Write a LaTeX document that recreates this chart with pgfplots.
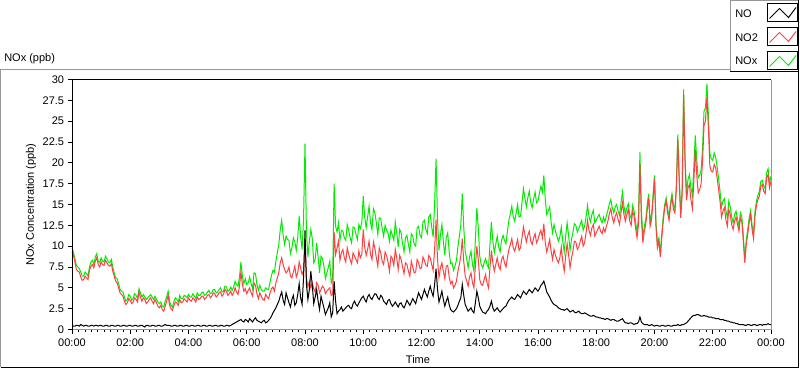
\documentclass[border=0pt]{standalone}
\usepackage{pgfplots}
\usepackage{pgfplotstable}
\pgfplotsset{compat=1.18}
\usepackage{fontspec}
\setmainfont{Liberation Sans}
\definecolor{noxgreen}{RGB}{0,235,0}
\definecolor{notwored}{RGB}{255,64,64}
\definecolor{framegray}{RGB}{150,150,150}
\pgfplotstableread{
t no no2 nox
0.0 0.5 9.3 9.8
0.05 0.4 8.9 9.3
0.1 0.4 8.1 8.5
0.15 0.5 7.2 7.7
0.2 0.5 7.0 7.5
0.25 0.4 6.9 7.3
0.3 0.6 6.3 6.9
0.35 0.5 5.9 6.4
0.4 0.4 6.0 6.4
0.45 0.5 6.4 6.9
0.5 0.5 6.2 6.7
0.55 0.4 6.0 6.4
0.6 0.4 7.1 7.5
0.65 0.5 7.6 8.1
0.7 0.5 7.8 8.3
0.75 0.4 7.4 7.8
0.8 0.5 8.2 8.7
0.85 0.5 8.6 9.1
0.9 0.4 7.8 8.2
0.95 0.5 7.5 8.0
1.0 0.5 8.1 8.6
1.05 0.4 7.8 8.2
1.1 0.4 7.7 8.1
1.15 0.5 8.3 8.8
1.2 0.5 8.0 8.5
1.25 0.4 7.7 8.1
1.3 0.4 7.6 8.0
1.35 0.5 7.9 8.4
1.4 0.5 7.0 7.5
1.45 0.4 6.4 6.8
1.5 0.4 5.8 6.2
1.55 0.5 5.6 6.1
1.6 0.5 5.0 5.5
1.65 0.4 4.4 4.8
1.7 0.4 4.2 4.6
1.75 0.5 4.0 4.5
1.8 0.5 3.4 3.9
1.85 0.4 3.0 3.4
1.9 0.4 3.2 3.6
1.95 0.5 3.7 4.2
2.0 0.5 3.5 4.0
2.05 0.4 3.1 3.5
2.1 0.4 3.3 3.7
2.15 0.5 3.8 4.3
2.2 0.5 3.6 4.1
2.25 0.4 3.3 3.7
2.3 0.4 4.5 4.9
2.35 0.5 3.9 4.4
2.4 0.5 3.4 3.9
2.45 0.4 3.8 4.2
2.5 0.3 3.6 3.9
2.55 0.5 3.1 3.6
2.6 0.5 3.3 3.8
2.65 0.4 3.6 4.0
2.7 0.4 3.8 4.2
2.75 0.5 3.4 3.9
2.8 0.5 3.1 3.6
2.85 0.4 3.6 4.0
2.9 0.4 3.2 3.6
2.95 0.5 2.8 3.3
3.0 0.5 2.6 3.1
3.05 0.4 2.9 3.3
3.1 0.4 2.4 2.8
3.15 0.5 2.2 2.7
3.2 0.6 2.8 3.4
3.25 0.5 3.4 3.9
3.3 0.5 4.1 4.6
3.35 0.5 2.9 3.4
3.4 0.4 2.5 2.9
3.45 0.4 2.3 2.7
3.5 0.5 2.9 3.4
3.55 0.5 3.3 3.8
3.6 0.4 3.2 3.6
3.65 0.4 2.9 3.3
3.7 0.5 3.6 4.1
3.75 0.5 3.2 3.7
3.8 0.4 3.3 3.7
3.85 0.4 3.7 4.1
3.9 0.5 3.5 4.0
3.95 0.5 3.3 3.8
4.0 0.4 3.8 4.2
4.05 0.4 3.5 3.9
4.1 0.5 3.4 3.9
4.15 0.5 3.8 4.3
4.2 0.4 3.6 4.0
4.25 0.4 3.3 3.7
4.3 0.5 3.9 4.4
4.35 0.5 3.6 4.1
4.4 0.4 3.7 4.1
4.45 0.4 4.0 4.4
4.5 0.5 4.0 4.5
4.55 0.5 3.6 4.1
4.6 0.4 3.8 4.2
4.65 0.4 4.1 4.5
4.7 0.5 4.2 4.7
4.75 0.5 3.8 4.3
4.8 0.4 4.0 4.4
4.85 0.4 4.4 4.8
4.9 0.5 4.3 4.8
4.95 0.5 3.9 4.4
5.0 0.4 4.1 4.5
5.05 0.4 4.4 4.8
5.1 0.5 4.5 5.0
5.15 0.5 4.0 4.5
5.2 0.4 4.2 4.6
5.25 0.4 4.8 5.2
5.3 0.5 4.6 5.1
5.35 0.5 4.1 4.6
5.4 0.4 4.3 4.7
5.45 0.5 4.6 5.1
5.5 0.6 4.1 4.7
5.55 0.7 4.4 5.1
5.6 0.8 5.0 5.8
5.65 0.9 4.5 5.4
5.7 1.0 4.2 5.2
5.75 1.1 5.2 6.3
5.8 1.2 6.9 8.1
5.85 1.0 5.4 6.4
5.9 0.9 4.6 5.5
5.95 1.2 4.9 6.1
6.0 1.1 4.3 5.4
6.05 0.9 4.7 5.6
6.1 1.3 5.0 6.3
6.15 1.1 4.4 5.5
6.2 0.9 4.0 4.9
6.25 1.2 5.6 6.8
6.3 1.4 5.3 6.7
6.35 1.1 4.3 5.4
6.4 1.0 3.7 4.7
6.45 0.9 4.4 5.3
6.5 0.8 4.0 4.8
6.55 1.0 3.6 4.6
6.6 1.1 3.5 4.6
6.65 0.8 4.2 5.0
6.7 0.9 3.9 4.8
6.75 1.1 3.7 4.8
6.8 1.3 4.4 5.7
6.85 1.6 4.9 6.5
6.9 2.0 5.1 7.1
6.95 2.3 4.6 6.9
7.0 2.6 5.6 8.2
7.05 3.0 6.2 9.2
7.1 3.4 6.8 10.2
7.15 4.0 8.0 12.0
7.2 4.5 8.6 13.1
7.25 3.5 7.8 11.3
7.3 3.0 7.2 10.2
7.35 4.4 6.8 11.2
7.4 3.8 7.0 10.8
7.45 3.2 7.5 10.7
7.5 2.7 6.4 9.1
7.55 3.6 6.2 9.8
7.6 4.1 6.9 11.0
7.65 2.9 7.6 10.5
7.7 3.2 6.3 9.5
7.75 4.2 6.8 11.0
7.8 5.5 8.1 13.6
7.85 3.8 7.4 11.2
7.9 3.0 6.6 9.6
7.95 6.2 7.0 13.2
8.0 11.9 10.4 22.3
8.05 5.4 6.2 11.6
8.1 3.6 5.1 8.7
8.15 4.8 5.8 10.6
8.2 7.0 5.0 12.0
8.25 5.3 5.6 10.9
8.3 3.1 4.9 8.0
8.35 3.9 4.5 8.4
8.4 4.8 5.6 10.4
8.45 3.4 5.3 8.7
8.5 2.4 4.4 6.8
8.55 4.0 4.8 8.8
8.6 3.3 5.2 8.5
8.65 2.6 5.0 7.6
8.7 1.8 4.3 6.1
8.75 2.2 4.6 6.8
8.8 2.6 4.8 7.4
8.85 3.2 5.0 8.2
8.9 1.5 4.1 5.6
8.95 2.0 4.2 6.2
9.0 5.8 11.7 17.5
9.05 3.4 9.0 12.4
9.1 1.9 9.8 11.7
9.15 2.2 10.6 12.8
9.2 2.4 8.3 10.7
9.25 2.7 9.2 11.9
9.3 2.2 9.6 11.8
9.35 2.4 8.6 11.0
9.4 2.6 8.1 10.7
9.45 2.8 9.8 12.6
9.5 2.9 9.0 11.9
9.55 2.6 8.4 11.0
9.6 2.5 7.9 10.4
9.65 3.1 9.2 12.3
9.7 3.4 8.8 12.2
9.75 3.0 8.4 11.4
9.8 2.8 8.0 10.8
9.85 3.2 9.4 12.6
9.9 3.5 8.6 12.1
9.95 3.8 9.0 12.8
10.0 4.0 12.0 16.0
10.05 3.6 9.9 13.5
10.1 3.3 8.9 12.2
10.15 3.9 9.6 13.5
10.2 4.2 10.6 14.8
10.25 3.8 9.0 12.8
10.3 3.6 8.4 12.0
10.35 4.0 10.5 14.5
10.4 4.3 9.7 14.0
10.45 4.2 8.6 12.8
10.5 3.8 7.6 11.4
10.55 3.6 9.8 13.4
10.6 4.1 9.2 13.3
10.65 3.9 8.2 12.1
10.7 3.4 7.8 11.2
10.75 3.2 9.3 12.5
10.8 3.0 8.9 11.9
10.85 3.5 8.1 11.6
10.9 3.6 7.0 10.6
10.95 3.1 8.8 11.9
11.0 2.8 8.5 11.3
11.05 3.0 7.7 10.7
11.1 3.3 9.6 12.9
11.15 3.0 8.6 11.6
11.2 2.7 7.2 9.9
11.25 3.1 8.9 12.0
11.3 3.2 8.4 11.6
11.35 2.8 7.5 10.3
11.4 2.6 6.7 9.3
11.45 3.0 8.0 11.0
11.5 3.5 7.8 11.3
11.55 3.2 7.0 10.2
11.6 2.9 6.4 9.3
11.65 3.3 8.2 11.5
11.7 3.7 7.5 11.2
11.75 3.4 6.8 10.2
11.8 3.1 6.9 10.0
11.85 3.8 8.4 12.2
11.9 4.4 8.0 12.4
11.95 4.0 7.3 11.3
12.0 3.6 7.4 11.0
12.05 4.2 8.7 12.9
12.1 4.8 8.3 13.1
12.15 4.3 7.7 12.0
12.2 3.9 7.6 11.5
12.25 4.6 8.9 13.5
12.3 5.2 8.6 13.8
12.35 4.5 7.8 12.3
12.4 4.0 7.1 11.1
12.45 5.4 9.6 15.0
12.5 7.3 13.2 20.5
12.55 4.8 8.4 13.2
12.6 3.3 6.2 9.5
12.65 3.9 7.4 11.3
12.7 4.6 8.0 12.6
12.75 3.6 7.0 10.6
12.8 2.8 6.1 8.9
12.85 3.4 7.6 11.0
12.9 3.9 7.7 11.6
12.95 3.0 6.3 9.3
13.0 2.4 5.5 7.9
13.05 2.2 5.8 8.0
13.1 2.1 5.0 7.1
13.15 2.3 5.3 7.6
13.2 2.5 5.8 8.3
13.25 2.9 7.0 9.9
13.3 3.4 7.8 11.2
13.35 3.8 8.8 12.6
13.4 5.4 10.9 16.3
13.45 4.1 8.2 12.3
13.5 3.0 6.4 9.4
13.55 2.6 5.9 8.5
13.6 2.2 5.2 7.4
13.65 2.4 6.3 8.7
13.7 2.6 6.8 9.4
13.75 2.2 5.6 7.8
13.8 2.0 5.0 7.0
13.85 3.2 7.6 10.8
13.9 4.6 10.0 14.6
13.95 3.8 8.4 12.2
14.0 2.8 6.0 8.8
14.05 2.4 5.4 7.8
14.1 2.1 5.3 7.4
14.15 2.0 6.0 8.0
14.2 1.9 6.6 8.5
14.25 2.2 5.6 7.8
14.3 2.4 5.0 7.4
14.35 2.8 7.4 10.2
14.4 3.4 9.5 12.9
14.45 2.6 8.0 10.6
14.5 2.2 7.0 9.2
14.55 2.4 7.8 10.2
14.6 2.6 8.6 11.2
14.65 2.3 7.6 9.9
14.7 2.1 7.2 9.3
14.75 2.3 8.4 10.7
14.8 2.5 8.8 11.3
14.85 2.7 8.0 10.7
14.9 2.8 7.5 10.3
14.95 3.2 8.6 11.8
15.0 3.5 9.6 13.1
15.05 3.7 10.2 13.9
15.1 3.9 10.9 14.8
15.15 3.7 9.8 13.5
15.2 3.6 9.4 13.0
15.25 3.9 10.1 14.0
15.3 4.2 10.8 15.0
15.35 4.0 9.5 13.5
15.4 3.8 9.8 13.6
15.45 4.2 11.0 15.2
15.5 4.6 12.3 16.9
15.55 4.4 11.4 15.8
15.6 4.2 10.5 14.7
15.65 4.5 11.3 15.8
15.7 4.8 11.8 16.6
15.75 4.6 10.6 15.2
15.8 4.4 10.2 14.6
15.85 4.7 11.0 15.7
15.9 5.0 11.5 16.5
15.95 4.8 10.4 15.2
16.0 4.6 10.8 15.4
16.05 4.9 11.5 16.4
16.1 5.3 11.9 17.2
16.15 5.5 11.0 16.5
16.2 5.8 12.7 18.5
16.25 5.2 10.4 15.6
16.3 4.5 9.3 13.8
16.35 4.2 10.0 14.2
16.4 3.9 10.8 14.7
16.45 3.5 9.4 12.9
16.5 3.2 8.4 11.6
16.55 3.0 9.6 12.6
16.6 2.9 8.9 11.8
16.65 2.8 8.4 11.2
16.7 2.6 8.0 10.6
16.75 2.5 8.6 11.1
16.8 2.4 9.9 12.3
16.85 2.4 8.2 10.6
16.9 2.3 7.0 9.3
16.95 2.4 8.8 11.2
17.0 2.5 10.3 12.8
17.05 2.3 9.0 11.3
17.1 2.1 7.4 9.5
17.15 2.2 8.6 10.8
17.2 2.3 9.4 11.7
17.25 2.1 10.6 12.7
17.3 2.0 10.5 12.5
17.35 2.1 9.6 11.7
17.4 2.2 9.9 12.1
17.45 2.0 10.6 12.6
17.5 1.9 11.2 13.1
17.55 1.9 10.0 11.9
17.6 2.0 10.4 12.4
17.65 1.9 11.6 13.5
17.7 1.8 13.1 14.9
17.75 1.7 11.9 13.6
17.8 1.6 11.3 12.9
17.85 1.6 12.2 13.8
17.9 1.7 12.6 14.3
17.95 1.6 11.2 12.8
18.0 1.5 11.6 13.1
18.05 1.5 12.0 13.5
18.1 1.4 12.4 13.8
18.15 1.4 11.8 13.2
18.2 1.3 11.5 12.8
18.25 1.3 12.2 13.5
18.3 1.2 11.7 12.9
18.35 1.3 12.4 13.7
18.4 1.3 13.0 14.3
18.45 1.2 13.9 15.1
18.5 1.1 14.5 15.6
18.55 1.2 13.4 14.6
18.6 1.2 12.8 14.0
18.65 1.1 13.6 14.7
18.7 1.0 14.0 15.0
18.75 1.0 13.2 14.2
18.8 1.1 12.6 13.7
18.85 1.2 14.0 15.2
18.9 1.3 15.2 16.5
18.95 1.0 13.8 14.8
19.0 0.8 13.0 13.8
19.05 0.8 13.8 14.6
19.1 0.7 14.4 15.1
19.15 0.8 13.0 13.8
19.2 0.8 12.5 13.3
19.25 0.7 14.2 14.9
19.3 0.6 13.6 14.2
19.35 0.7 12.2 12.9
19.4 0.7 11.0 11.7
19.45 0.9 12.6 13.5
19.5 1.5 19.8 21.3
19.55 0.9 13.4 14.3
19.6 0.7 10.4 11.1
19.65 0.6 11.8 12.4
19.7 0.6 12.6 13.2
19.75 0.6 14.4 15.0
19.8 0.5 15.8 16.3
19.85 0.5 12.4 12.9
19.9 0.6 13.2 13.8
19.95 0.5 15.6 16.1
20.0 0.4 18.1 18.5
20.05 0.5 12.4 12.9
20.1 0.5 9.8 10.3
20.15 0.4 10.6 11.0
20.2 0.4 8.7 9.1
20.25 0.5 11.0 11.5
20.3 0.5 13.0 13.5
20.35 0.4 14.6 15.0
20.4 0.4 15.4 15.8
20.45 0.5 14.0 14.5
20.5 0.5 13.1 13.6
20.55 0.4 14.8 15.2
20.6 0.4 15.9 16.3
20.65 0.5 14.4 14.9
20.7 0.5 14.0 14.5
20.75 0.5 16.8 17.3
20.8 0.6 22.8 23.4
20.85 0.5 17.6 18.1
20.9 0.5 13.4 13.9
20.95 0.6 16.2 16.8
21.0 0.6 28.2 28.8
21.05 0.7 19.8 20.5
21.1 0.8 15.5 16.3
21.15 1.0 17.0 18.0
21.2 1.2 17.4 18.6
21.25 1.4 15.6 17.0
21.3 1.6 14.5 16.1
21.35 1.7 17.8 19.5
21.4 1.7 21.6 23.3
21.45 1.8 18.6 20.4
21.5 1.8 16.4 18.2
21.55 1.7 16.8 18.5
21.6 1.6 17.5 19.1
21.65 1.6 20.2 21.8
21.7 1.7 24.5 26.2
21.75 1.6 25.0 26.6
21.8 1.6 27.9 29.5
21.85 1.5 24.2 25.7
21.9 1.5 19.6 21.1
21.95 1.5 19.0 20.5
22.0 1.4 18.9 20.3
22.05 1.4 19.8 21.2
22.1 1.3 19.4 20.7
22.15 1.3 18.2 19.5
22.2 1.3 16.8 18.1
22.25 1.2 15.4 16.6
22.3 1.2 13.5 14.7
22.35 1.2 14.2 15.4
22.4 1.1 14.6 15.7
22.45 1.1 13.2 14.3
22.5 1.0 12.4 13.4
22.55 1.0 14.4 15.4
22.6 0.9 13.8 14.7
22.65 0.9 12.6 13.5
22.7 0.8 12.0 12.8
22.75 0.8 13.0 13.8
22.8 0.7 13.5 14.2
22.85 0.7 12.6 13.3
22.9 0.6 11.8 12.4
22.95 0.6 13.4 14.0
23.0 0.6 12.9 13.5
23.05 0.6 10.6 11.2
23.1 0.5 8.0 8.5
23.15 0.5 10.2 10.7
23.2 0.6 11.4 12.0
23.25 0.6 12.8 13.4
23.3 0.5 13.8 14.3
23.35 0.5 12.0 12.5
23.4 0.6 10.9 11.5
23.45 0.6 13.6 14.2
23.5 0.5 14.9 15.4
23.55 0.5 15.6 16.1
23.6 0.6 16.0 16.6
23.65 0.6 17.2 17.8
23.7 0.5 17.4 17.9
23.75 0.6 16.6 17.2
23.8 0.6 16.3 16.9
23.85 0.6 18.2 18.8
23.9 0.7 18.6 19.3
23.95 0.6 17.0 17.6
24.0 0.6 17.8 18.4
}\data
\begin{document}
\fontsize{8.25pt}{10pt}\selectfont
\begin{tikzpicture}
\path[use as bounding box] (0,0) rectangle (600pt,276.75pt);
\begin{axis}[
  at={(54pt,29.625pt)}, anchor=south west,
  scale only axis, width=524.25pt, height=187.5pt,
  xmin=0, xmax=24, ymin=0, ymax=30,
  clip=false,
  axis line style={draw=none},
  xtick={0,2,...,24},
  xticklabels={00:00,02:00,04:00,06:00,08:00,10:00,12:00,14:00,16:00,18:00,20:00,22:00,00:00},
  minor x tick num=8,
  ytick={0,2.5,...,30},
  tick align=outside,
  major tick length=3pt, minor tick length=2pt,
  tick style={black, line width=0.6pt},
  x tick label style={yshift=-1pt},
  tick label style={font=\fontsize{8.25pt}{10pt}\selectfont},
  /pgf/number format/assume math mode=true,
  /pgf/number format/fixed,
  xtick pos=bottom, ytick pos=left,
]
\addplot[noxgreen, line width=0.75pt, line join=miter] table[x=t,y=nox]{\data};
\addplot[notwored, line width=0.75pt, line join=miter] table[x=t,y=no2]{\data};
\addplot[black, line width=0.75pt, line join=miter] table[x=t,y=no]{\data};
\draw[framegray, line width=0.75pt] (rel axis cs:0,0) -- (rel axis cs:1,0) -- (rel axis cs:1,1);
\draw[black, line width=0.75pt] (rel axis cs:0,0) -- (rel axis cs:0,1) -- (rel axis cs:1,1);
\end{axis}
\begin{scope}[x=0.75pt,y=0.75pt]
\draw[framegray, line width=0.75pt] (0.5,2) -- (0.5,299.5) -- (730,299.5);
\draw[black, line width=0.75pt] (0.5,2) -- (798.5,2) -- (798.5,297);
\node[anchor=west, inner sep=0pt] at (4,310) {NOx (ppb)};
\node[rotate=90, inner sep=0pt] at (31,164.5) {NOx Concentration (ppb)};
\node[inner sep=0pt] at (418,9) {Time};
\draw[framegray, line width=0.75pt] (730,297) -- (730,368.5) -- (798,368.5);
\draw[black, line width=0.75pt] (730,297.3) -- (798.5,297.3) -- (798.5,369);
\node[anchor=west, inner sep=0pt] at (735,355.5) {NO};
\node[anchor=west, inner sep=0pt] at (735,331.5) {NO2};
\node[anchor=west, inner sep=0pt] at (735,308) {NOx};
\foreach \yy/\cc in {366/black, 342/notwored, 318/noxgreen}{
  \draw[black, line width=0.75pt] (767.5,\yy) rectangle (797.5,\yy-18);
  \draw[\cc, line width=0.75pt] (769.5,\yy-15.5) -- (779.5,\yy-5.5) -- (788.5,\yy-14.5) -- (796,\yy-4.5);
}
\end{scope}
\end{tikzpicture}
\end{document}
